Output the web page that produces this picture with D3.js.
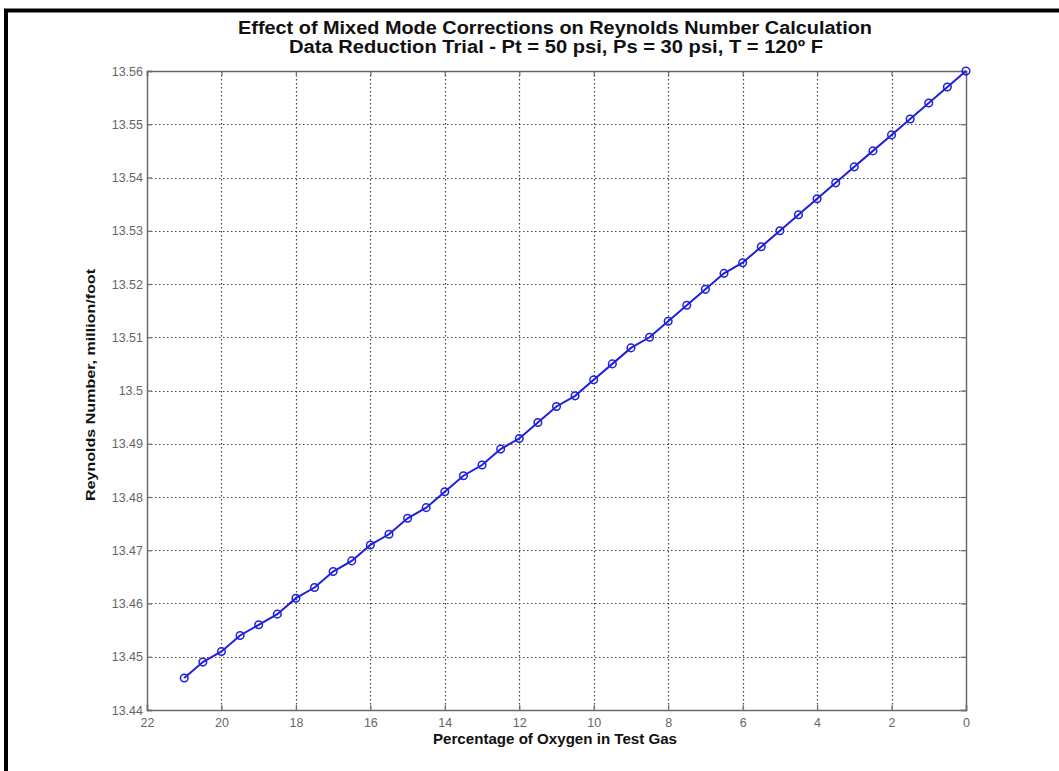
<!DOCTYPE html>
<html>
<head>
<meta charset="utf-8">
<script src="https://cdn.jsdelivr.net/npm/d3@7"></script>
<style>
  body { margin: 0; background: #fff; }
  text { font-family: "Liberation Sans", Arial, sans-serif; }
</style>
</head>
<body>
<script>
"use strict";

// Width and height
let w = 1059;
let h = 771;

// Data
let oxygenPct = [21, 20.5, 20, 19.5, 19, 18.5, 18, 17.5, 17, 16.5, 16, 15.5, 15, 14.5, 14,
                 13.5, 13, 12.5, 12, 11.5, 11, 10.5, 10, 9.5, 9, 8.5, 8, 7.5, 7, 6.5, 6,
                 5.5, 5, 4.5, 4, 3.5, 3, 2.5, 2, 1.5, 1, 0.5, 0];
let reynolds = [13.446, 13.449, 13.451, 13.454, 13.456, 13.458, 13.461, 13.463, 13.466, 13.468,
                13.471, 13.473, 13.476, 13.478, 13.481, 13.484, 13.486, 13.489, 13.491, 13.494,
                13.497, 13.499, 13.502, 13.505, 13.508, 13.510, 13.513, 13.516, 13.519, 13.522,
                13.524, 13.527, 13.530, 13.533, 13.536, 13.539, 13.542, 13.545, 13.548, 13.551,
                13.554, 13.557, 13.560];
let xTicks = [22, 20, 18, 16, 14, 12, 10, 8, 6, 4, 2, 0];
let yTicks = [13.44, 13.45, 13.46, 13.47, 13.48, 13.49, 13.5, 13.51, 13.52, 13.53, 13.54, 13.55, 13.56];

let points = oxygenPct.map((x, i) => ({x: x, y: reynolds[i]}));

let plot = {left: 147, right: 966, top: 71, bottom: 710};

let svg = d3.select("body")
    .append("svg")
    .attr("width", w)
    .attr("height", h);

// black frame round the figure (runs off the right and bottom edges)
svg.append("rect")
    .attr("x", 6).attr("y", 10.5)
    .attr("width", w + 20).attr("height", h + 20)
    .attr("fill", "none")
    .attr("stroke", "#000")
    .attr("stroke-width", 4);

let x = d3.scaleLinear().domain([22, 0]).range([plot.left, plot.right]);
let y = d3.scaleLinear().domain([13.44, 13.56]).range([plot.bottom, plot.top]);

// grid
let grid = svg.append("g").attr("class", "grid");
grid.selectAll("line.gx")
    .data(xTicks.slice(1, -1))
    .enter().append("line")
    .attr("class", "gx")
    .attr("x1", d => Math.round(x(d)) + 0.5).attr("x2", d => Math.round(x(d)) + 0.5)
    .attr("y1", plot.top).attr("y2", plot.bottom);
grid.selectAll("line.gy")
    .data(yTicks.slice(1, -1))
    .enter().append("line")
    .attr("class", "gy")
    .attr("y1", d => Math.round(y(d)) + 0.5).attr("y2", d => Math.round(y(d)) + 0.5)
    .attr("x1", plot.left).attr("x2", plot.right);
grid.selectAll("line")
    .attr("stroke", "#444")
    .attr("stroke-width", 1.2)
    .attr("stroke-dasharray", "1.5,2.5");

// axes, ticks inward like matlab
let axisColor = "#6a6a6a";
let xAxis = d3.axisBottom(x).tickValues(xTicks).tickSize(-5).tickPadding(8).tickFormat(d3.format("d"));
let yAxis = d3.axisLeft(y).tickValues(yTicks).tickSize(-5).tickPadding(4).tickFormat(d => String(+d.toFixed(2)));

let gx = svg.append("g").attr("transform", `translate(0,${plot.bottom})`).call(xAxis);
let gy = svg.append("g").attr("transform", `translate(${plot.left},0)`).call(yAxis);
svg.append("g").attr("transform", `translate(0,${plot.top})`)
    .call(d3.axisTop(x).tickValues(xTicks).tickSize(-5).tickFormat(""));
svg.append("g").attr("transform", `translate(${plot.right},0)`)
    .call(d3.axisRight(y).tickValues(yTicks).tickSize(-5).tickFormat(""));

svg.selectAll(".domain").attr("stroke", axisColor).attr("stroke-width", 1.5);
svg.selectAll(".tick line").attr("stroke", axisColor).attr("stroke-width", 1.2);
svg.selectAll(".tick text")
    .attr("fill", "#666")
    .style("font-size", "12.5px")
    .style("font-family", "'Liberation Sans', Arial, sans-serif");
gx.selectAll(".tick text").attr("dy", "0.71em");

// series line + circle markers
let line = d3.line().x(d => x(d.x)).y(d => y(d.y));
svg.append("path")
    .datum(points)
    .attr("d", line)
    .attr("fill", "none")
    .attr("stroke", "#1f1fe0")
    .attr("stroke-width", 2);
svg.append("g")
    .selectAll("circle")
    .data(points)
    .enter().append("circle")
    .attr("cx", d => x(d.x))
    .attr("cy", d => y(d.y))
    .attr("r", 3.8)
    .attr("fill", "none")
    .attr("stroke", "#1f1fe0")
    .attr("stroke-width", 1.5);

// titles
svg.append("text")
    .attr("x", 555).attr("y", 34)
    .attr("text-anchor", "middle")
    .attr("font-weight", "bold")
    .attr("font-size", 17.5)
    .attr("fill", "#111")
    .attr("textLength", 634)
    .attr("lengthAdjust", "spacingAndGlyphs")
    .text("Effect of Mixed Mode Corrections on Reynolds Number Calculation");
svg.append("text")
    .attr("x", 556).attr("y", 53)
    .attr("text-anchor", "middle")
    .attr("font-weight", "bold")
    .attr("font-size", 17.5)
    .attr("fill", "#111")
    .attr("textLength", 534)
    .attr("lengthAdjust", "spacingAndGlyphs")
    .text("Data Reduction Trial - Pt = 50 psi, Ps = 30 psi, T = 120º F");

svg.append("text")
    .attr("x", 555).attr("y", 744)
    .attr("text-anchor", "middle")
    .attr("font-weight", "bold")
    .attr("font-size", 14)
    .attr("fill", "#111")
    .attr("textLength", 244)
    .attr("lengthAdjust", "spacingAndGlyphs")
    .text("Percentage of Oxygen in Test Gas");

svg.append("text")
    .attr("transform", "translate(95,385) rotate(-90)")
    .attr("text-anchor", "middle")
    .attr("font-weight", "bold")
    .attr("font-size", 13.5)
    .attr("fill", "#111")
    .attr("textLength", 232)
    .attr("lengthAdjust", "spacingAndGlyphs")
    .text("Reynolds Number, million/foot");
</script>
</body>
</html>
